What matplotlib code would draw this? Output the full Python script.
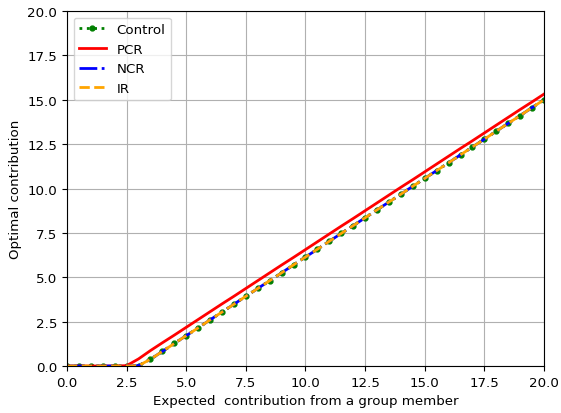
import matplotlib
matplotlib.use("Agg")
import matplotlib.pyplot as plt
import numpy as np

plt.rcParams['font.size'] = 9.6

# expected contribution of a group member (x axis)
expected = [0.0, 0.5, 1.0, 1.5, 2.0, 2.5, 3.0, 3.5, 4.0, 4.5,
            5.0, 5.5, 6.0, 6.5, 7.0, 7.5, 8.0, 8.5, 9.0, 9.5,
            10.0, 10.5, 11.0, 11.5, 12.0, 12.5, 13.0, 13.5, 14.0, 14.5,
            15.0, 15.5, 16.0, 16.5, 17.0, 17.5, 18.0, 18.5, 19.0, 19.5, 20.0]

# optimal contribution for each treatment
control = [0.0, 0.0, 0.0, 0.0, 0.0, 0.0, 0.02, 0.38, 0.82, 1.27,
           1.71, 2.15, 2.60, 3.04, 3.48, 3.93, 4.37, 4.81, 5.25, 5.70,
           6.14, 6.58, 7.03, 7.47, 7.91, 8.35, 8.80, 9.24, 9.68, 10.13,
           10.57, 11.01, 11.45, 11.90, 12.34, 12.78, 13.23, 13.67, 14.11, 14.56, 15.00]
pcr = [0.0, 0.0, 0.0, 0.0, 0.0, 0.02, 0.40, 0.87, 1.31, 1.74,
       2.18, 2.62, 3.06, 3.50, 3.93, 4.37, 4.81, 5.25, 5.69, 6.12,
       6.56, 7.00, 7.44, 7.88, 8.31, 8.75, 9.19, 9.63, 10.07, 10.50,
       10.94, 11.38, 11.82, 12.26, 12.69, 13.13, 13.57, 14.01, 14.45, 14.88, 15.32]
ncr = list(control)
ir = list(control)

fig = plt.figure(figsize=(5.61, 4.14), dpi=100)
ax = fig.add_axes([0.1194, 0.1135, 0.8503, 0.8575])

ax.plot(expected, control, color='green', linestyle=':', linewidth=2,
        marker='o', markersize=3.5, label='Control')
ax.plot(expected, pcr, color='red', linestyle='-', linewidth=2, label='PCR')
ax.plot(expected, ncr, color='blue', linestyle='-.', linewidth=2, label='NCR')
ax.plot(expected, ir, color='orange', linestyle='--', linewidth=2, label='IR')

ax.set_xlim(0, 20)
ax.set_ylim(0, 20)
ax.set_xticks(np.arange(0, 20.1, 2.5))
ax.set_yticks(np.arange(0, 20.1, 2.5))
ax.grid(True)
ax.set_xlabel('Expected  contribution from a group member')
ax.set_ylabel('Optimal contribution')
ax.legend(loc='upper left')

fig.savefig('out.png', dpi=100)
